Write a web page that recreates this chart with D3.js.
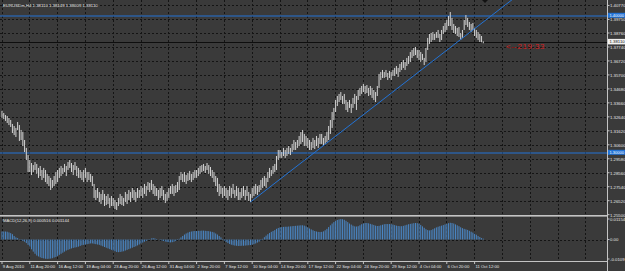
<!DOCTYPE html>
<html>
<head>
<meta charset="utf-8">
<script src="https://cdn.jsdelivr.net/npm/d3@7"></script>
<style>
html, body { margin: 0; padding: 0; background: #3a3a3a; }
svg { display: block; }
text { font-family: "Liberation Sans", Arial, sans-serif; }
</style>
</head>
<body>
<svg id="chart" width="625" height="271"></svg>
<script>
// EURUSDm H4, 9 Aug 2010 - 11 Oct 2010, one value per bar
var barHigh = [
    1.3307, 1.3292, 1.3277, 1.3270, 1.3256, 1.3241, 1.3212, 1.3197, 1.3183, 1.3226, 1.3204, 1.3168, 1.3153, 1.3095, 1.3037, 1.2985,
    1.2949, 1.2927, 1.2912, 1.2934, 1.2920, 1.2891, 1.2905, 1.2876, 1.2891, 1.2876, 1.2847, 1.2832, 1.2818, 1.2803, 1.2832, 1.2861,
    1.2876, 1.2891, 1.2905, 1.2891, 1.2920, 1.2905, 1.2934, 1.2949, 1.2927, 1.2912, 1.2934, 1.2905, 1.2891, 1.2876, 1.2861, 1.2876,
    1.2891, 1.2861, 1.2861, 1.2847, 1.2832, 1.2774, 1.2730, 1.2745, 1.2715, 1.2701, 1.2730, 1.2701, 1.2686, 1.2701, 1.2672, 1.2686,
    1.2672, 1.2657, 1.2642, 1.2672, 1.2701, 1.2686, 1.2672, 1.2715, 1.2701, 1.2730, 1.2715, 1.2745, 1.2730, 1.2715, 1.2745, 1.2730,
    1.2759, 1.2745, 1.2774, 1.2759, 1.2788, 1.2781, 1.2803, 1.2774, 1.2759, 1.2745, 1.2730, 1.2745, 1.2759, 1.2730, 1.2701, 1.2715,
    1.2745, 1.2759, 1.2774, 1.2759, 1.2766, 1.2788, 1.2832, 1.2861, 1.2847, 1.2861, 1.2839, 1.2854, 1.2869, 1.2847, 1.2861, 1.2876,
    1.2876, 1.2891, 1.2905, 1.2912, 1.2920, 1.2905, 1.2927, 1.2912, 1.2898, 1.2876, 1.2861, 1.2832, 1.2818, 1.2774, 1.2759, 1.2745,
    1.2759, 1.2745, 1.2730, 1.2759, 1.2745, 1.2774, 1.2730, 1.2759, 1.2745, 1.2715, 1.2745, 1.2759, 1.2730, 1.2759, 1.2715, 1.2701,
    1.2745, 1.2759, 1.2774, 1.2759, 1.2766, 1.2803, 1.2818, 1.2832, 1.2818, 1.2861, 1.2891, 1.2876, 1.2905, 1.2920, 1.2978, 1.3022,
    1.3022, 1.3007, 1.3037, 1.3022, 1.3037, 1.3051, 1.3037, 1.3066, 1.3095, 1.3080, 1.3095, 1.3124, 1.3153, 1.3168, 1.3139, 1.3124,
    1.3110, 1.3095, 1.3080, 1.3110, 1.3095, 1.3124, 1.3110, 1.3139, 1.3139, 1.3110, 1.3124, 1.3153, 1.3197, 1.3241, 1.3299, 1.3329,
    1.3387, 1.3416, 1.3431, 1.3445, 1.3416, 1.3431, 1.3387, 1.3372, 1.3387, 1.3358, 1.3402, 1.3431, 1.3416, 1.3460, 1.3475, 1.3489,
    1.3504, 1.3489, 1.3496, 1.3475, 1.3489, 1.3475, 1.3460, 1.3445, 1.3489, 1.3577, 1.3591, 1.3606, 1.3591, 1.3606, 1.3584, 1.3599,
    1.3591, 1.3606, 1.3621, 1.3635, 1.3621, 1.3650, 1.3664, 1.3679, 1.3664, 1.3694, 1.3708, 1.3737, 1.3752, 1.3767, 1.3774, 1.3752,
    1.3752, 1.3737, 1.3723, 1.3694, 1.3767, 1.3840, 1.3869, 1.3876, 1.3883, 1.3869, 1.3883, 1.3898, 1.3869, 1.3898, 1.3927, 1.3949,
    1.3971, 1.4000, 1.4029, 1.3986, 1.3942, 1.3927, 1.3913, 1.3920, 1.3876, 1.3898, 1.3971, 1.4007, 1.3986, 1.3956, 1.3942, 1.3949,
    1.3913, 1.3898, 1.3883, 1.3869, 1.3854, 1.3815
];
var barLow = [
    1.3256, 1.3248, 1.3234, 1.3219, 1.3204, 1.3190, 1.3146, 1.3131, 1.3117, 1.3168, 1.3088, 1.3095, 1.3051, 1.3007, 1.2949, 1.2861,
    1.2861, 1.2839, 1.2861, 1.2876, 1.2847, 1.2818, 1.2832, 1.2803, 1.2818, 1.2788, 1.2774, 1.2759, 1.2730, 1.2745, 1.2759, 1.2774,
    1.2788, 1.2818, 1.2832, 1.2847, 1.2861, 1.2832, 1.2876, 1.2891, 1.2861, 1.2839, 1.2876, 1.2832, 1.2818, 1.2818, 1.2803, 1.2788,
    1.2818, 1.2788, 1.2803, 1.2788, 1.2759, 1.2672, 1.2657, 1.2672, 1.2642, 1.2628, 1.2657, 1.2613, 1.2620, 1.2628, 1.2599, 1.2613,
    1.2613, 1.2591, 1.2584, 1.2613, 1.2628, 1.2620, 1.2613, 1.2642, 1.2628, 1.2657, 1.2642, 1.2672, 1.2657, 1.2642, 1.2672, 1.2672,
    1.2686, 1.2672, 1.2701, 1.2686, 1.2730, 1.2715, 1.2730, 1.2701, 1.2686, 1.2686, 1.2657, 1.2672, 1.2686, 1.2657, 1.2635, 1.2650,
    1.2672, 1.2701, 1.2701, 1.2686, 1.2708, 1.2715, 1.2730, 1.2803, 1.2788, 1.2788, 1.2774, 1.2796, 1.2803, 1.2788, 1.2803, 1.2818,
    1.2818, 1.2832, 1.2847, 1.2861, 1.2869, 1.2854, 1.2876, 1.2847, 1.2832, 1.2818, 1.2788, 1.2759, 1.2715, 1.2686, 1.2701, 1.2672,
    1.2686, 1.2672, 1.2657, 1.2686, 1.2672, 1.2701, 1.2672, 1.2686, 1.2657, 1.2657, 1.2672, 1.2686, 1.2657, 1.2686, 1.2650, 1.2642,
    1.2672, 1.2686, 1.2701, 1.2693, 1.2715, 1.2730, 1.2745, 1.2759, 1.2745, 1.2788, 1.2818, 1.2832, 1.2847, 1.2861, 1.2876, 1.2949,
    1.2964, 1.2964, 1.2978, 1.2964, 1.2978, 1.2993, 1.2985, 1.3007, 1.3022, 1.3022, 1.3037, 1.3051, 1.3066, 1.3080, 1.3051, 1.3051,
    1.3037, 1.3022, 1.3022, 1.3037, 1.3029, 1.3051, 1.3037, 1.3066, 1.3066, 1.3051, 1.3066, 1.3080, 1.3095, 1.3139, 1.3183, 1.3241,
    1.3299, 1.3343, 1.3372, 1.3387, 1.3358, 1.3358, 1.3314, 1.3299, 1.3329, 1.3292, 1.3329, 1.3358, 1.3314, 1.3387, 1.3416, 1.3431,
    1.3445, 1.3431, 1.3438, 1.3416, 1.3423, 1.3402, 1.3387, 1.3372, 1.3416, 1.3475, 1.3533, 1.3548, 1.3548, 1.3555, 1.3533, 1.3548,
    1.3533, 1.3562, 1.3562, 1.3577, 1.3555, 1.3591, 1.3606, 1.3621, 1.3606, 1.3635, 1.3650, 1.3664, 1.3694, 1.3708, 1.3715, 1.3694,
    1.3679, 1.3664, 1.3679, 1.3642, 1.3664, 1.3752, 1.3796, 1.3810, 1.3825, 1.3825, 1.3840, 1.3840, 1.3810, 1.3825, 1.3869, 1.3883,
    1.3898, 1.3927, 1.3927, 1.3898, 1.3876, 1.3869, 1.3854, 1.3847, 1.3825, 1.3840, 1.3898, 1.3934, 1.3920, 1.3898, 1.3883, 1.3898,
    1.3854, 1.3840, 1.3825, 1.3810, 1.3808, 1.3801
];
// MACD(12,26,9) main line, drawn as histogram
var macdHist = [
    0.0045, 0.0045, 0.0045, 0.0044, 0.0040, 0.0036, 0.0030, 0.0020, 0.0012, 0.0008, 0.0002, -0.0004, -0.0008, -0.0012, -0.0020, -0.0030,
    -0.0040, -0.0055, -0.0068, -0.0080, -0.0090, -0.0095, -0.0100, -0.0104, -0.0106, -0.0108, -0.0109, -0.0108, -0.0107, -0.0105, -0.0101, -0.0098,
    -0.0092, -0.0086, -0.0080, -0.0074, -0.0068, -0.0062, -0.0058, -0.0054, -0.0050, -0.0047, -0.0045, -0.0043, -0.0040, -0.0036, -0.0032, -0.0030,
    -0.0028, -0.0026, -0.0024, -0.0022, -0.0022, -0.0024, -0.0026, -0.0028, -0.0030, -0.0034, -0.0038, -0.0042, -0.0046, -0.0050, -0.0054, -0.0058,
    -0.0062, -0.0066, -0.0070, -0.0071, -0.0070, -0.0068, -0.0066, -0.0062, -0.0058, -0.0054, -0.0050, -0.0046, -0.0042, -0.0038, -0.0033, -0.0028,
    -0.0022, -0.0017, -0.0012, -0.0008, -0.0003, 0.0002, 0.0006, 0.0008, 0.0006, 0.0003, 0.0000, -0.0003, -0.0006, -0.0008, -0.0011, -0.0014,
    -0.0016, -0.0016, -0.0015, -0.0012, -0.0008, -0.0003, 0.0004, 0.0012, 0.0020, 0.0028, 0.0034, 0.0039, 0.0043, 0.0045, 0.0047, 0.0048,
    0.0048, 0.0049, 0.0049, 0.0050, 0.0050, 0.0049, 0.0048, 0.0047, 0.0045, 0.0043, 0.0040, 0.0034, 0.0028, 0.0020, 0.0012, 0.0003,
    -0.0006, -0.0014, -0.0020, -0.0025, -0.0029, -0.0032, -0.0034, -0.0035, -0.0036, -0.0036, -0.0035, -0.0035, -0.0034, -0.0033, -0.0032, -0.0031,
    -0.0029, -0.0026, -0.0022, -0.0017, -0.0012, -0.0005, 0.0004, 0.0013, 0.0022, 0.0030, 0.0037, 0.0043, 0.0048, 0.0053, 0.0060, 0.0065,
    0.0068, 0.0070, 0.0071, 0.0072, 0.0072, 0.0073, 0.0074, 0.0075, 0.0076, 0.0077, 0.0078, 0.0079, 0.0080, 0.0080, 0.0078, 0.0074,
    0.0068, 0.0062, 0.0057, 0.0052, 0.0048, 0.0045, 0.0043, 0.0042, 0.0043, 0.0046, 0.0052, 0.0060, 0.0070, 0.0080, 0.0090, 0.0098,
    0.0105, 0.0110, 0.0113, 0.0115, 0.0114, 0.0111, 0.0105, 0.0098, 0.0090, 0.0084, 0.0078, 0.0074, 0.0073, 0.0075, 0.0080, 0.0086,
    0.0090, 0.0093, 0.0093, 0.0091, 0.0088, 0.0085, 0.0082, 0.0078, 0.0076, 0.0077, 0.0080, 0.0083, 0.0086, 0.0087, 0.0087, 0.0087,
    0.0086, 0.0084, 0.0081, 0.0078, 0.0076, 0.0075, 0.0075, 0.0077, 0.0080, 0.0083, 0.0086, 0.0088, 0.0090, 0.0092, 0.0093, 0.0092,
    0.0089, 0.0082, 0.0074, 0.0066, 0.0058, 0.0053, 0.0051, 0.0053, 0.0058, 0.0063, 0.0068, 0.0072, 0.0075, 0.0078, 0.0081, 0.0085,
    0.0088, 0.0092, 0.0094, 0.0093, 0.0090, 0.0085, 0.0080, 0.0075, 0.0069, 0.0064, 0.0060, 0.0057, 0.0054, 0.0049, 0.0044, 0.0039,
    0.0033, 0.0027, 0.0020, 0.0014, 0.0008, 0.0005
];
// one label every 16 bars
var timeLabels = ['9 Aug 2010', '11 Aug 20:00', '16 Aug 12:00', '19 Aug 04:00', '23 Aug 20:00', '26 Aug 12:00',
    '31 Aug 04:00', '2 Sep 20:00', '7 Sep 12:00', '10 Sep 04:00', '14 Sep 20:00', '17 Sep 12:00',
    '22 Sep 04:00', '24 Sep 20:00', '29 Sep 12:00', '4 Oct 04:00', '6 Oct 20:00', '11 Oct 12:00'];
var priceTicks = [1.40770, 1.39750, 1.38760, 1.37740, 1.36720, 1.35700, 1.34680, 1.33660,
    1.32640, 1.31620, 1.30600, 1.29580, 1.28560, 1.27540, 1.26520, 1.25500];
var macdTicks = [0.01154, 0, -0.01094];
var macdTickText = ['0.01154', '0.00', '-0.0109'];
var levelLines = [1.40000, 1.30000];
var bidPrice = 1.38110;
var trendPoints = [[143, 1.2642], [269, 1.3878]];
var titleText = 'EURUSDm,H4  1.38110 1.38149 1.38009 1.38110';
var macdText = 'MACD(12,26,9) 0.000516 0.001144';
var countdownText = '<--219:33';

var plotRight = 607, mainBottom = 215, macdTop = 217, macdBottom = 261;
var gridCol = '#141414', lightCol = '#c4c4c4', textCol = '#e6e6e6', blueCol = '#2273d6';

var svg = d3.select('#chart');
var x = d3.scaleLinear().domain([0, 16]).range([2, 29.8]);
var y = d3.scaleLinear().domain([1.30, 1.40]).range([153, 16]);
var ym = d3.scaleLinear().domain([-0.01094, 0.01154]).range([259, 219]);

svg.append('rect').attr('width', 625).attr('height', 271).attr('fill', '#3a3a3a');

var defs = svg.append('defs');
defs.append('clipPath').attr('id', 'clipMain').append('rect')
    .attr('x', 0).attr('y', 0).attr('width', plotRight).attr('height', mainBottom);
defs.append('clipPath').attr('id', 'clipMacd').append('rect')
    .attr('x', 0).attr('y', macdTop).attr('width', plotRight).attr('height', macdBottom - macdTop);

// grid
var gridBars = d3.range(0, 22).map(function (k) { return k * 16; });
var grid = svg.append('g').attr('stroke', gridCol).attr('stroke-dasharray', '2,2')
    .attr('shape-rendering', 'crispEdges');
grid.selectAll('.hgrid').data(priceTicks).enter().append('line')
    .attr('x1', 0).attr('x2', plotRight)
    .attr('y1', function (d) { return Math.round(y(d)) + 0.5; })
    .attr('y2', function (d) { return Math.round(y(d)) + 0.5; });
grid.selectAll('.vgrid').data(gridBars).enter().append('line')
    .attr('x1', function (d) { return x(d); }).attr('x2', function (d) { return x(d); })
    .attr('y1', 0).attr('y2', mainBottom);
grid.selectAll('.vgridm').data(gridBars).enter().append('line')
    .attr('x1', function (d) { return x(d); }).attr('x2', function (d) { return x(d); })
    .attr('y1', macdTop).attr('y2', macdBottom);
grid.append('line').attr('x1', 0).attr('x2', plotRight)
    .attr('y1', Math.round(ym(0)) + 0.5).attr('y2', Math.round(ym(0)) + 0.5);

// main window
var main = svg.append('g').attr('clip-path', 'url(#clipMain)');

main.selectAll('.level').data(levelLines).enter().append('line')
    .attr('x1', 0).attr('x2', plotRight)
    .attr('y1', function (d) { return y(d); }).attr('y2', function (d) { return y(d); })
    .attr('stroke', blueCol).attr('stroke-width', 1.2);

main.append('line').attr('x1', 0).attr('x2', plotRight)
    .attr('y1', Math.round(y(bidPrice)) + 0.5).attr('y2', Math.round(y(bidPrice)) + 0.5)
    .attr('stroke', '#0e0e0e').attr('stroke-width', 1);

main.selectAll('.bar').data(barHigh).enter().append('line')
    .attr('class', 'bar')
    .attr('x1', function (d, i) { return x(i); })
    .attr('x2', function (d, i) { return x(i); })
    .attr('y1', function (d) { return y(d); })
    .attr('y2', function (d, i) { return y(barLow[i]); })
    .attr('stroke', '#d4d4d4').attr('stroke-width', 1);

// trendline as a ray to the right
var slope = (trendPoints[1][1] - trendPoints[0][1]) / (trendPoints[1][0] - trendPoints[0][0]);
var rayEnd = x.invert(plotRight);
main.append('line')
    .attr('x1', x(trendPoints[0][0])).attr('y1', y(trendPoints[0][1]))
    .attr('x2', x(rayEnd)).attr('y2', y(trendPoints[0][1] + slope * (rayEnd - trendPoints[0][0])))
    .attr('stroke', blueCol).attr('stroke-width', 1);

main.append('path').attr('d', 'M482,0 L488,0 L485,3 Z').attr('fill', '#111');

main.append('text').attr('x', 3).attr('y', 7.2)
    .attr('font-size', 4.3).attr('fill', textCol).text(titleText);

main.append('text').attr('x', 506).attr('y', 48.5)
    .attr('font-size', 8).attr('letter-spacing', 0.5).attr('fill', '#d21c1c').text(countdownText);

// MACD window
var macd = svg.append('g').attr('clip-path', 'url(#clipMacd)');
macd.selectAll('.hist').data(macdHist).enter().append('line')
    .attr('x1', function (d, i) { return x(i); })
    .attr('x2', function (d, i) { return x(i); })
    .attr('y1', ym(0))
    .attr('y2', function (d) { return ym(d); })
    .attr('stroke', '#4a86c4').attr('stroke-width', 1);
macd.append('text').attr('x', 3).attr('y', 222.3)
    .attr('font-size', 4.2).attr('fill', textCol).text(macdText);

// frames
svg.append('rect').attr('x', 0).attr('y', mainBottom).attr('width', plotRight).attr('height', 1.6)
    .attr('fill', lightCol);
svg.append('line').attr('x1', 0).attr('x2', plotRight).attr('y1', macdBottom + 0.5).attr('y2', macdBottom + 0.5)
    .attr('stroke', lightCol);
svg.append('line').attr('x1', plotRight + 0.5).attr('x2', plotRight + 0.5).attr('y1', 0).attr('y2', 271)
    .attr('stroke', lightCol);

// price axis
var axis = svg.append('g').attr('font-size', 4.3).attr('fill', textCol);
axis.selectAll('.ptick').data(priceTicks).enter().append('line')
    .attr('x1', plotRight).attr('x2', plotRight + 2.5)
    .attr('y1', function (d) { return y(d); }).attr('y2', function (d) { return y(d); })
    .attr('stroke', lightCol);
axis.selectAll('.plabel').data(priceTicks).enter().append('text')
    .attr('x', 610).attr('y', function (d) { return y(d) + 1.9; })
    .text(function (d) { return d.toFixed(5); });

axis.selectAll('.lvlbox').data(levelLines).enter().append('rect')
    .attr('x', plotRight + 1).attr('y', function (d) { return y(d) - 3.2; })
    .attr('width', 18).attr('height', 5).attr('fill', blueCol);
axis.selectAll('.lvltext').data(levelLines).enter().append('text')
    .attr('x', 609.5).attr('y', function (d) { return y(d) + 0.8; })
    .attr('font-size', 4).attr('fill', '#ffffff').text(function (d) { return d.toFixed(5); });

axis.append('rect').attr('x', plotRight + 1).attr('y', y(bidPrice) - 3)
    .attr('width', 18).attr('height', 5.5).attr('fill', '#f0f0f0');
axis.append('text').attr('x', 609.5).attr('y', y(bidPrice) + 1.6)
    .attr('fill', '#111').text(bidPrice.toFixed(5));

axis.selectAll('.mtick').data(macdTicks).enter().append('line')
    .attr('x1', plotRight).attr('x2', plotRight + 2.5)
    .attr('y1', function (d) { return ym(d); }).attr('y2', function (d) { return ym(d); })
    .attr('stroke', lightCol);
axis.selectAll('.mlabel').data(macdTicks).enter().append('text')
    .attr('x', 610).attr('y', function (d) { return ym(d) + 1.6; })
    .text(function (d, i) { return macdTickText[i]; });

// time axis
var timeAxis = svg.append('g').attr('font-size', 4.2).attr('fill', textCol);
timeAxis.selectAll('.ttick').data(timeLabels).enter().append('line')
    .attr('x1', function (d, i) { return x(i * 16); }).attr('x2', function (d, i) { return x(i * 16); })
    .attr('y1', macdBottom).attr('y2', macdBottom + 3)
    .attr('stroke', lightCol);
timeAxis.selectAll('.tlabel').data(timeLabels).enter().append('text')
    .attr('x', function (d, i) { return x(i * 16) + 0.8; })
    .attr('y', 268.3)
    .text(function (d) { return d; });
</script>
</body>
</html>
